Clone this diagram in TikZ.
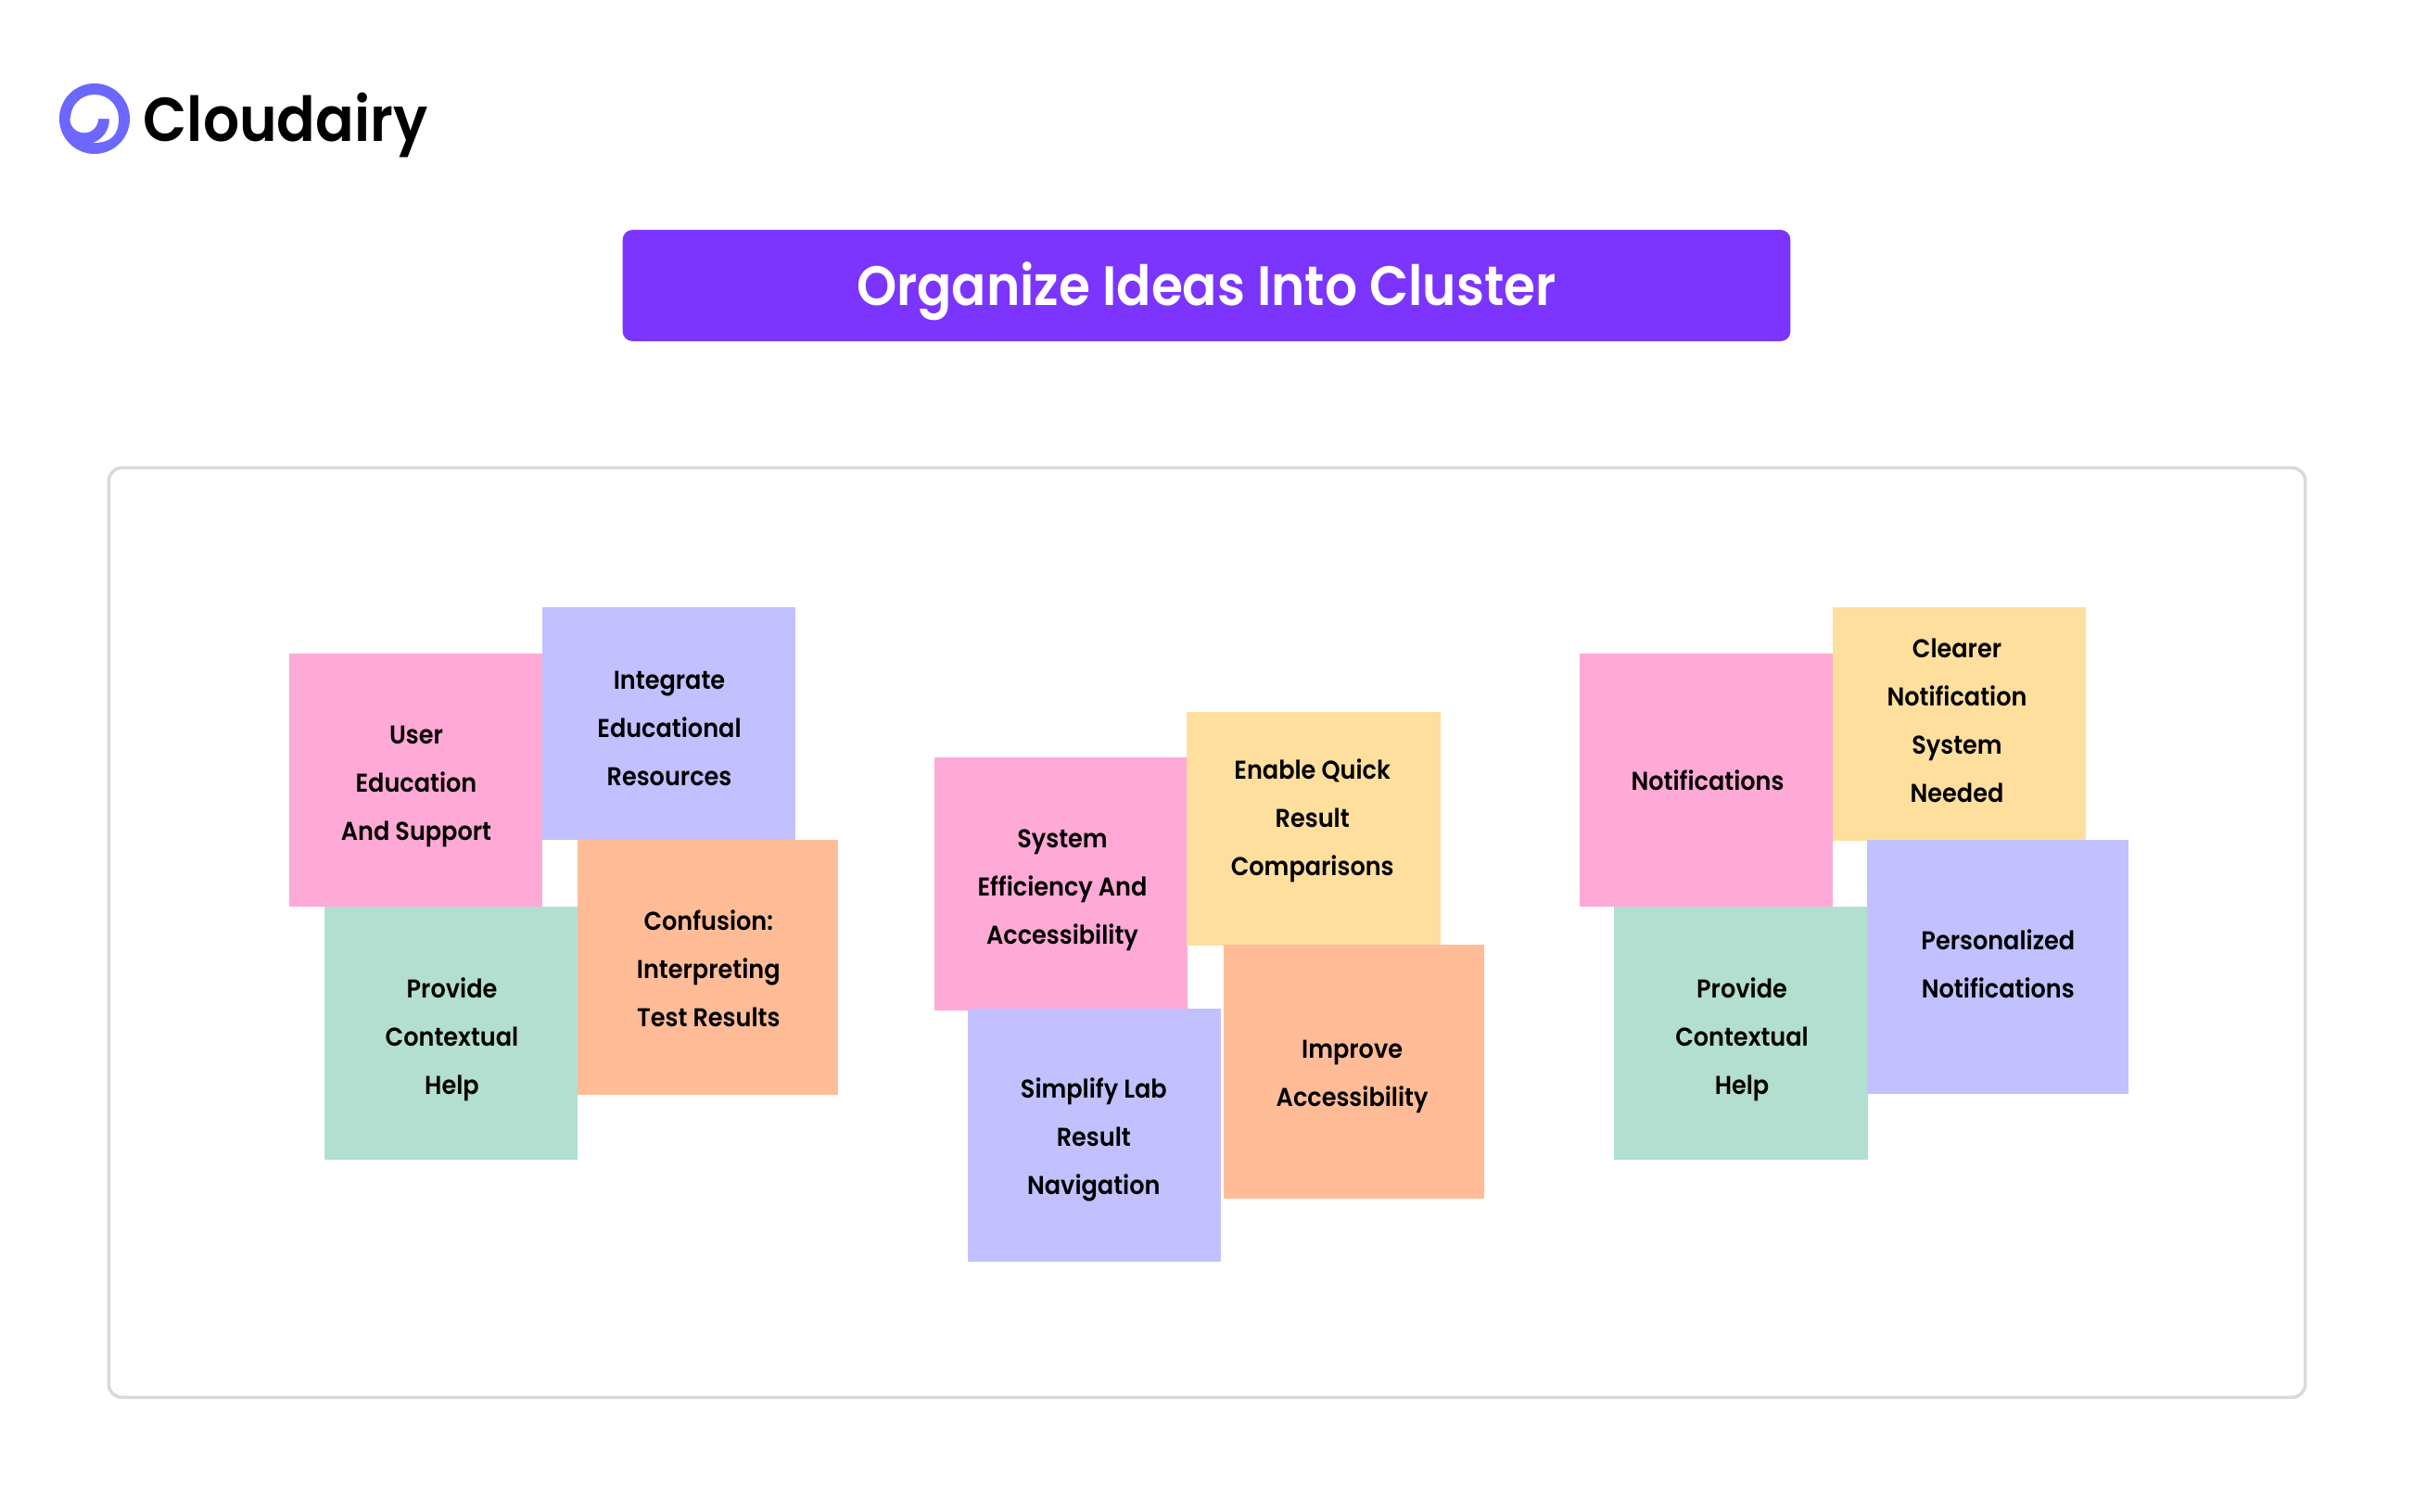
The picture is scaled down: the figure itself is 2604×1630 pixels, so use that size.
\documentclass[tikz,border=0pt]{standalone}
\usepackage{fontspec}
\setmainfont{Poppins}[UprightFont=* SemiBold,FakeStretch=0.92]
\definecolor{notepink}{HTML}{FFA9D6}
\definecolor{notelav}{HTML}{C2C0FF}
\definecolor{noteorange}{HTML}{FFBC97}
\definecolor{notegreen}{HTML}{B2DFCF}
\definecolor{noteyellow}{HTML}{FFDF9E}
\definecolor{titlepurple}{HTML}{7B35FF}
\definecolor{logoblue}{HTML}{6C67FF}
\definecolor{framegray}{HTML}{D9D9D9}

\begin{document}
\begin{tikzpicture}[x=0.01cm,y=-0.01cm]
            \tikzset{note/.style = {shape=rectangle,inner sep=0pt,minimum width=2.73cm,minimum height=2.73cm}}
            \tikzset{wide/.style = {note,minimum width=2.81cm,minimum height=2.74cm}}
            \tikzset{lines/.style = {inner sep=0pt,align=center,text=black,font=\fontsize{7.9}{14.8}\selectfont}}
            \useasboundingbox (0,0) rectangle (2604,1630);

            \node[circle,fill=logoblue,inner sep=0pt,minimum size=0.76cm] (logo) at (102,128) {};
            \fill[white] (76,128) arc[start angle=180,end angle=360,radius=26]
                .. controls (128,147) and (118,154) .. (101,154)
                .. controls (112,149) and (118,140) .. (118,128)
                -- (106,128) arc[start angle=0,end angle=180,radius=15.3] -- cycle;
            \node[anchor=base west,inner sep=0pt,font=\fontsize{19}{20}\selectfont] (brand) at (154,152) {Cloudairy};

            \node[rectangle,fill=titlepurple,rounded corners=3pt,inner sep=0pt,minimum width=12.59cm,minimum height=1.2cm] (title) at (1301.5,308) {};
            \node[text=white,inner sep=0pt,font=\fontsize{17}{20}\selectfont] (titletext) at (1301.5,314) {Organize Ideas Into Cluster};

            \node[rectangle,draw=framegray,line width=1pt,rounded corners=4pt,inner sep=0pt,minimum width=23.68cm,minimum height=10.02cm] (frame) at (1302,1006) {};

            % left
            \node[note,fill=notepink] (userhelp) at (448.5,841.5) {};
            \node[note,fill=notelav,minimum height=2.515cm] (integrate) at (721.5,780.5) {};
            \node[note,fill=notegreen] (context) at (486.5,1114.5) {};
            \node[wide,fill=noteorange] (confusion) at (763.5,1043.5) {};
            \node[lines] (userhelptext) at (449,848) {User\\Education\\And Support};
            \node[lines] (integratetext) at (722,785.5) {Integrate\\Educational\\Resources};
            \node[lines] (contexttext) at (487.5,1121) {Provide\\Contextual\\Help};
            \node[lines] (confusiontext) at (764.3,1045) {Confusion:\\Interpreting\\Test Results};

            % middle
            \node[note,fill=notepink] (system) at (1144.5,953.5) {};
            \node[note,fill=noteyellow,minimum height=2.52cm] (quick) at (1417,893.7) {};
            \node[note,fill=notelav] (simplify) at (1180.5,1224.5) {};
            \node[wide,fill=noteorange] (improve) at (1460.5,1156) {};
            \node[lines] (systemtext) at (1146,960) {System\\Efficiency And\\Accessibility};
            \node[lines] (quicktext) at (1415.7,885) {Enable Quick\\Result\\Comparisons};
            \node[lines] (simplifytext) at (1179.8,1229.5) {Simplify Lab\\Result\\Navigation};
            \node[lines] (improvetext) at (1458.6,1161) {Improve\\Accessibility};

            % right
            \node[note,fill=notepink] (notif) at (1840.5,841.5) {};
            \node[note,fill=noteyellow,minimum height=2.515cm] (clearer) at (2113.5,780.7) {};
            \node[note,fill=notegreen] (context2) at (1878,1114.5) {};
            \node[wide,fill=notelav] (personal) at (2155,1043) {};
            \node[lines] (notiftext) at (1842,841.5) {Notifications};
            \node[lines] (clearertext) at (2111,777.5) {Clearer\\Notification\\System\\Needed};
            \node[lines] (context2text) at (1879,1121) {Provide\\Contextual\\Help};
            \node[lines] (personaltext) at (2155.3,1040) {Personalized\\Notifications};
\end{tikzpicture}
\end{document}
